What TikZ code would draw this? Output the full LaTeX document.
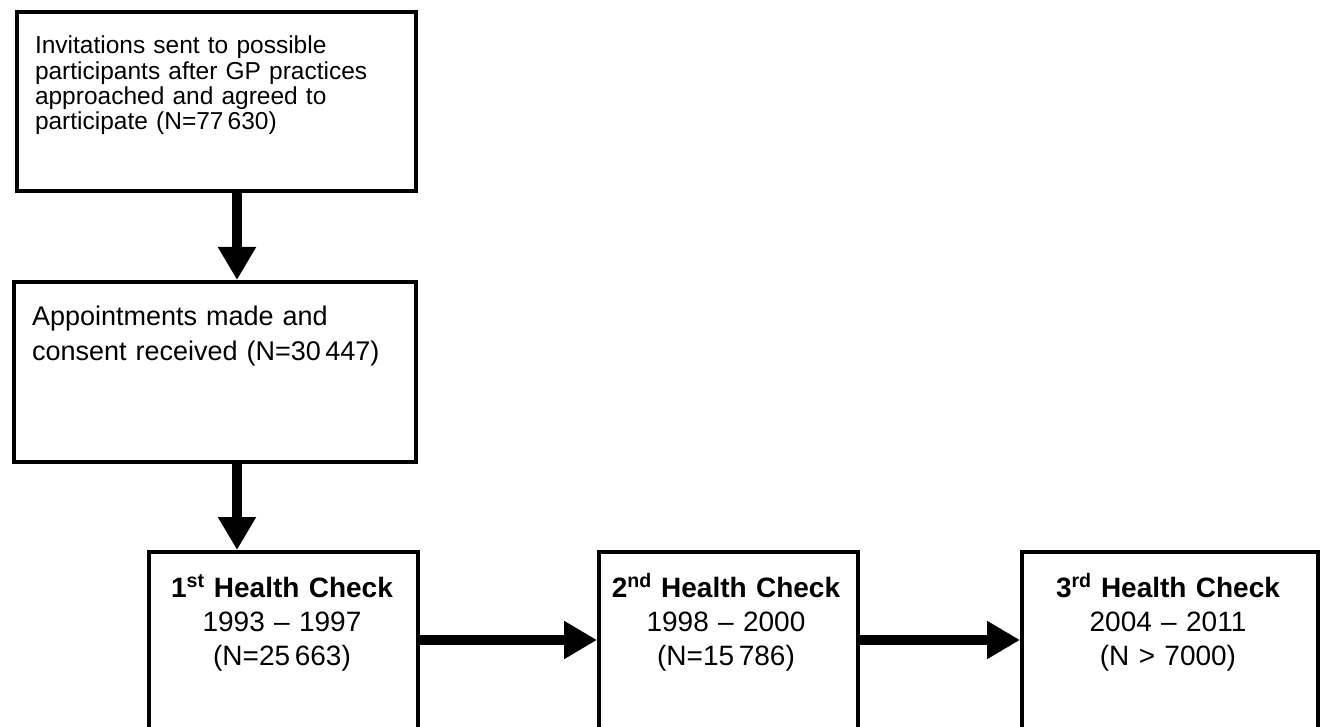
\documentclass[tikz,border=0pt]{standalone}
\usepackage{fontspec}
\setmainfont{Liberation Sans}
\usetikzlibrary{arrows.meta}
\tikzset{
  box/.style={draw=black, line width=4pt, rectangle, inner sep=0pt, anchor=north west},
  txt/.style={inner sep=0pt, outer sep=0pt},
  hc/.style={txt, anchor=base, align=center, font=\fontsize{28}{34}\selectfont},
  arr/.style={line width=10.5pt, -{Triangle[length=33pt,width=36pt]}},
}
\begin{document}
\begin{tikzpicture}[x=1pt,y=-1pt]
\clip (0,0) rectangle (1326,727);
\fill[white] (0,0) rectangle (1326,727);
% boxes
\node[box, minimum width=399pt, minimum height=179pt] (b1) at (15,10) {};
\node[box, minimum width=402pt, minimum height=180pt] (b2) at (12,280) {};
\node[box, minimum width=269pt, minimum height=210pt] (b3) at (147,550) {};
\node[box, minimum width=259pt, minimum height=210pt] (b4) at (597,550) {};
\node[box, minimum width=296pt, minimum height=210pt] (b5) at (1020,550) {};
% texts
\node[txt, anchor=base west, text width=385pt, align=left, font=\fontsize{24.5}{25.3}\selectfont] (t1) at (35,54)
  {Invitations sent to possible\\participants after GP practices\\approached and agreed to\\participate (N=77\,630)};
\node[txt, anchor=base west, text width=385pt, align=left, font=\fontsize{27}{35}\selectfont] (t2) at (32,326)
  {Appointments made and\\consent received (N=30\,447)};
\node[hc, text width=260pt] (t3) at (282,597)
  {\textbf{1\textsuperscript{st} Health Check}\\1993 -- 1997\\(N=25\,663)};
\node[hc, text width=250pt] (t4) at (726,597)
  {\textbf{2\textsuperscript{nd} Health Check}\\1998 -- 2000\\(N=15\,786)};
\node[hc, text width=280pt] (t5) at (1168,597)
  {\textbf{3\textsuperscript{rd} Health Check}\\2004 -- 2011\\(N > 7000)};
% connectors
\coordinate (ax) at (237,0);
\coordinate (ay) at (0,640);
\draw[arr] (b1.south -| ax) -- (b2.north -| ax);
\draw[arr] (b2.south -| ax) -- (b3.north -| ax);
\draw[arr] (b3.east |- ay) -- (b4.west |- ay);
\draw[arr] (b4.east |- ay) -- (b5.west |- ay);
\end{tikzpicture}
\end{document}
